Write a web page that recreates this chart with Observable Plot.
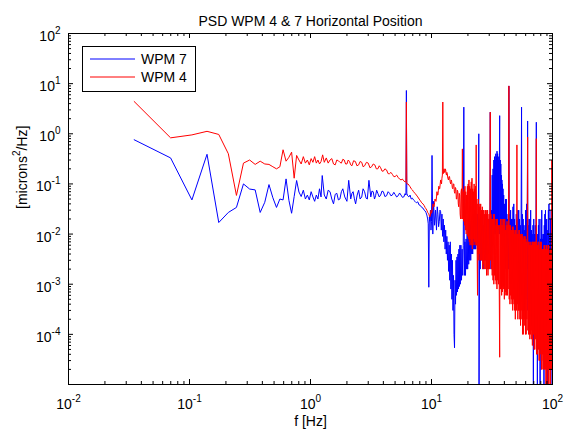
<!DOCTYPE html>
<html><head><meta charset="utf-8">
<script src="https://cdn.jsdelivr.net/npm/d3@7"></script>
<script src="https://cdn.jsdelivr.net/npm/@observablehq/plot@0.6"></script>
<style>
body{margin:0;background:#fff;}
</style>
</head><body><div id="chart"></div>
<script>
const titleText = "PSD WPM 4 & 7 Horizontal Position";
const xLabelText = "f [Hz]";
const yLabelText = "[microns^2/Hz]";
const seriesNames = ["WPM 7", "WPM 4"];
const seriesColors = ["#0000ff", "#ff0000"];
const xTickValues = [1e-2, 1e-1, 1, 10, 100];
const yTickValues = [1e-4, 1e-3, 1e-2, 1e-1, 1, 10, 100];

// WPM 7 (blue)
const wpm7Freq = [
0.0349,0.0698,0.1047,0.1396,0.1745,0.2094,0.2443,0.2792,0.3141,0.349,
0.3839,0.4188,0.4537,0.4886,0.5235,0.5584,0.5933,0.6282,0.6631,0.698,
0.7329,0.7678,0.8027,0.8376,0.8725,0.9074,0.9423,0.9772,1.012,1.047,
1.082,1.117,1.152,1.187,1.222,1.25,1.3,1.35,1.4,1.45,
1.5,1.55,1.6,1.65,1.7,1.75,1.8,1.85,1.92,2.0,
2.07,2.15,2.2,2.25,2.3,2.36,2.43,2.5,2.57,2.65,
2.72,2.8,2.88,2.95,3.04,3.15,3.22,3.3,3.38,3.45,
3.52,3.6,3.7,3.8,3.9,4.0,4.12,4.25,4.38,4.5,
4.62,4.75,4.88,5.0,5.15,5.3,5.45,5.6,5.75,5.9,
6.05,6.15,6.2,6.25,6.35,6.5,6.65,6.8,6.95,7.1,
7.3,7.5,7.7,7.9,8.1,8.3,8.5,8.7,8.85,9.0,
9.15,9.3,9.4,9.5,9.6,9.7,9.8,9.9,10.0,10.1,
10.25,10.4,10.6,10.8,11.0,11.15,11.3,11.45,11.6,11.75,
11.9,12.05,12.2,12.35,12.5,12.65,12.8,12.95,13.1,13.25,
13.4,13.55,13.7,13.85,14.0,14.15,14.3,14.45,14.6,14.75,
14.9,15.05,15.2,15.35,15.5,15.65,15.8,15.95,16.1,16.25,
16.4,16.55,16.7,16.85,17.0,17.15,17.3,17.5,17.7,17.9,
18.1,18.3,18.5,18.7,18.9,19.1,19.3,19.5,19.7,19.9,
20.1,20.3,20.5,20.7,20.9,21.1,21.3,21.5,21.7,21.9,
22.1,22.3,22.5,22.7,22.9,23.1,23.3,23.5,23.7,23.9,
24.1,24.3,24.6,24.7,25.0,25.25,25.5,25.75,26.0,26.25,
26.5,26.75,27.0,27.25,27.5,27.75,28.0,28.25,28.5,28.75,
29.0,29.25,29.5,29.75,30.0,30.3,30.6,31.0,31.25,31.5,
31.75,32.0,32.25,32.5,32.75,33.0,33.2,33.4,33.6,33.8,
34.0,34.2,34.4,34.6,34.8,35.0,35.2,35.4,35.6,35.8,
36.0,36.2,36.4,36.6,36.8,37.0,37.2,37.4,37.6,37.8,
38.0,38.2,38.4,38.6,38.8,39.0,39.25,39.5,39.75,40.0,
40.25,40.5,40.75,41.0,41.25,41.5,41.75,42.0,42.25,42.5,
42.75,43.0,43.3,43.6,44.0,44.35,44.7,45.05,45.4,45.75,
46.1,46.45,46.8,47.15,47.5,47.85,48.2,48.6,49.0,49.4,
49.8,50.2,50.6,51.0,51.4,51.8,52.2,52.6,53.0,53.4,
53.8,54.2,54.6,55.0,55.5,55.9,56.3,56.75,57.2,57.65,
58.1,58.55,59.0,59.5,60.0,60.5,61.0,61.6,62.3,62.6,
63.0,63.5,64.0,64.5,65.0,65.5,66.0,66.5,67.0,67.5,
68.0,68.5,69.0,69.5,70.0,70.5,71.0,71.5,72.0,72.7,
73.5,74.0,74.5,75.0,75.5,76.0,76.5,77.0,77.5,78.0,
78.5,79.0,79.5,80.0,80.5,81.0,81.5,82.0,82.5,83.0,
83.5,84.0,84.5,85.0,85.5,86.0,86.5,87.0,87.5,88.0,
88.5,89.0,89.5,90.0,90.5,91.0,91.5,92.0,92.5,93.0,
93.5,94.0,94.5,95.0,95.5,96.0,96.5,97.0,97.5,98.0,
98.5,99.0,99.5,100
];
const wpm7Psd = [
0.76,0.33,0.048,0.39,0.017,0.027,0.034,0.10,0.079,0.076,
0.027,0.043,0.097,0.053,0.034,0.05,0.048,0.126,0.047,0.026,
0.056,0.117,0.069,0.056,0.075,0.05,0.06,0.048,0.07,0.055,
0.045,0.06,0.05,0.08,0.055,0.147,0.06,0.05,0.075,0.07,
0.05,0.04,0.062,0.065,0.048,0.05,0.07,0.08,0.055,0.045,
0.118,0.05,0.065,0.07,0.052,0.04,0.06,0.075,0.05,0.055,
0.08,0.07,0.052,0.05,0.118,0.055,0.072,0.07,0.05,0.058,
0.075,0.065,0.055,0.06,0.072,0.07,0.056,0.058,0.07,0.065,
0.058,0.06,0.068,0.062,0.055,0.058,0.066,0.06,0.054,0.055,
0.064,0.06,7.3,0.065,0.058,0.055,0.06,0.05,0.052,0.048,
0.045,0.042,0.044,0.038,0.037,0.034,0.033,0.03,0.029,0.027,
0.024,0.02,0.016,0.00087,0.022,0.018,0.03,0.012,0.018,0.37,
0.01,0.045,0.015,0.03,0.012,0.035,0.025,0.014,0.018,0.03,
0.028,0.012,0.025,0.009,0.02,0.007,0.015,0.005,0.012,0.004,
0.009,0.003,0.007,0.0018,0.006,0.0012,0.007,0.0008,0.004,0.0005,
0.003,0.0003,0.0015,0.0001,0.000054,0.0012,0.0004,0.003,0.0006,0.0035,
0.0007,0.004,0.0008,0.005,0.0009,0.006,0.001,0.006,0.0012,0.005,
0.0015,0.006,3.4,0.0015,0.007,0.0015,0.008,0.002,0.01,0.002,
0.012,0.0025,0.012,0.003,0.015,0.003,0.018,0.004,0.02,0.004,
0.025,0.005,0.02,0.005,0.03,0.005,0.025,0.006,0.02,0.005,
0.025,0.004,1.0,0.000003,0.02,0.002,0.025,0.003,0.02,0.003,
0.03,0.002,0.015,0.003,0.02,0.003,0.02,0.004,0.025,0.003,
0.03,0.004,0.02,0.004,0.02,0.003,2.7,0.002,0.03,0.003,
0.15,0.006,0.2,0.01,0.3,0.01,0.35,0.015,0.3,0.01,
0.4,0.012,0.35,0.01,0.45,0.02,0.4,0.012,0.3,0.015,
0.35,0.01,0.3,2.3,0.01,0.3,0.008,0.25,0.012,0.15,
0.006,0.12,0.008,0.1,0.005,0.08,0.006,0.06,0.003,0.04,
0.004,0.03,0.002,0.05,0.003,0.05,0.002,0.025,0.002,0.02,
0.003,0.02,0.002,9.0,0.002,0.025,0.001,0.03,0.001,0.02,
0.0012,0.02,0.0015,0.035,0.0008,0.04,0.0008,0.02,0.001,0.015,
0.0012,0.025,0.0006,0.02,0.0006,0.03,0.0005,0.03,0.0004,0.02,
0.0008,0.015,0.001,0.02,3.4,0.0006,0.025,0.0006,0.02,0.0003,
0.015,0.0003,0.012,0.0004,0.03,0.0005,0.04,0.002,1.8,0.0003,
0.015,0.0002,0.02,0.0004,0.02,0.0004,0.03,0.0002,0.012,0.00015,
0.01,0.00008,0.015,0.000003,0.02,0.0004,0.01,0.0001,0.015,0.001,
1.7,0.0002,0.006,0.000003,0.01,0.0002,0.015,0.0003,0.02,0.0001,
0.005,0.000003,0.008,0.00015,0.02,0.0002,0.03,0.0003,0.008,0.0001,
0.01,0.00008,0.01,0.000003,0.015,0.0002,0.025,0.0004,0.03,0.0001,
0.015,0.00005,0.02,0.0003,0.006,0.000003,0.012,0.0004,0.03,0.0002,
0.04,0.0003,0.006,0.0001,0.01,0.0002,0.02,0.000003,0.03,0.0005,
0.015,0.0003,0.02,0.0008
];

// WPM 4 (red)
const wpm4Freq = [
0.0349,0.0698,0.1047,0.1396,0.1745,0.2094,0.2443,0.2792,0.3141,0.349,
0.3839,0.4188,0.4537,0.4886,0.5235,0.5584,0.5933,0.6282,0.6631,0.698,
0.7329,0.7678,0.8027,0.8376,0.8725,0.9074,0.9423,0.9772,1.012,1.047,
1.082,1.117,1.152,1.187,1.222,1.26,1.3,1.35,1.4,1.45,
1.5,1.55,1.6,1.65,1.7,1.75,1.8,1.85,1.9,1.95,
2.0,2.05,2.1,2.15,2.2,2.27,2.35,2.42,2.5,2.57,
2.65,2.72,2.8,2.9,3.0,3.1,3.2,3.3,3.4,3.5,
3.6,3.7,3.8,3.9,4.0,4.12,4.25,4.38,4.5,4.62,
4.75,4.88,5.0,5.15,5.3,5.45,5.6,5.75,5.9,6.05,
6.15,6.2,6.25,6.4,6.5,6.65,6.8,6.95,7.1,7.3,
7.5,7.7,7.9,8.1,8.3,8.5,8.7,8.85,9.0,9.15,
9.3,9.4,9.5,9.6,9.7,9.8,9.9,10.0,10.1,10.2,
10.3,10.4,10.5,10.6,10.7,10.8,10.9,11.0,11.1,11.2,
11.3,11.4,11.5,11.6,11.7,11.8,11.9,12.0,12.1,12.2,
12.3,12.4,12.5,12.6,12.7,12.8,12.9,13.0,13.1,13.2,
13.3,13.4,13.5,13.65,13.8,13.95,14.1,14.25,14.4,14.55,
14.7,14.85,15.0,15.15,15.3,15.45,15.6,15.75,15.9,16.05,
16.2,16.35,16.5,16.65,16.8,16.95,17.1,17.25,17.4,17.55,
17.7,17.85,18.0,18.15,18.3,18.45,18.6,18.75,18.9,19.05,
19.2,19.35,19.5,19.65,19.8,19.95,20.1,20.25,20.4,20.55,
20.7,20.85,21.0,21.15,21.3,21.45,21.6,21.75,21.9,22.05,
22.2,22.35,22.5,22.65,22.8,22.95,23.1,23.25,23.4,23.55,
23.7,23.85,24.0,24.15,24.3,24.45,24.6,24.75,24.9,25.1,
25.3,25.5,25.7,25.9,26.1,26.3,26.5,26.7,26.9,27.1,
27.3,27.5,27.7,27.9,28.1,28.3,28.5,28.7,28.9,29.1,
29.3,29.5,29.7,29.9,30.1,30.35,30.6,30.8,31.0,31.25,
31.5,31.75,32.0,32.25,32.5,32.75,33.0,33.25,33.5,33.75,
34.0,34.25,34.5,34.75,35.0,35.25,35.5,35.75,36.0,36.3,
36.6,36.8,37.0,37.25,37.5,37.75,38.0,38.25,38.5,38.75,
39.0,39.25,39.5,39.75,40.0,40.3,40.6,40.9,41.2,41.5,
41.8,42.1,42.4,42.7,43.0,43.3,43.6,43.9,44.2,44.5,
44.8,45.1,45.4,45.7,46.0,46.3,46.6,46.9,47.2,47.5,
47.8,48.1,48.4,48.7,49.0,49.3,49.6,49.9,50.2,50.5,
50.8,51.1,51.4,51.7,52.0,52.35,52.7,53.05,53.4,53.75,
54.1,54.45,54.8,55.15,55.5,55.85,56.2,56.6,57.0,57.4,
57.8,58.2,58.6,59.0,59.4,59.8,60.2,60.6,61.0,61.4,
61.8,62.3,62.6,63.0,63.4,63.8,64.2,64.6,65.0,65.4,
65.8,66.2,66.6,67.0,67.4,67.8,68.2,68.6,69.0,69.4,
69.8,70.2,70.6,71.0,71.4,71.8,72.2,72.6,73.0,73.5,
73.9,74.4,74.8,75.3,75.7,76.2,76.6,77.1,77.5,78.0,
78.4,78.9,79.3,79.8,80.2,80.7,81.1,81.6,82.0,82.5,
82.9,83.4,83.8,84.3,84.7,85.2,85.6,86.1,86.5,87.0,
87.4,87.9,88.3,88.8,89.2,89.7,90.1,90.6,91.0,91.5,
91.9,92.4,92.8,93.3,93.7,94.2,94.6,95.1,95.5,96.0,
96.4,96.9,97.3,97.8,98.2,98.7,99.1,99.5,100
];
const wpm4Psd = [
4.4,0.83,0.95,1.12,0.97,0.40,0.059,0.26,0.30,0.245,
0.284,0.25,0.245,0.22,0.20,0.22,0.48,0.284,0.34,0.43,
0.13,0.37,0.3,0.25,0.35,0.26,0.3,0.24,0.32,0.27,
0.35,0.26,0.3,0.25,0.28,0.38,0.27,0.33,0.26,0.3,
0.32,0.25,0.24,0.3,0.29,0.27,0.26,0.31,0.3,0.25,
0.25,0.3,0.28,0.24,0.23,0.29,0.28,0.23,0.24,0.28,
0.27,0.22,0.23,0.27,0.26,0.21,0.22,0.25,0.24,0.2,
0.2,0.23,0.21,0.18,0.18,0.2,0.19,0.16,0.16,0.17,
0.155,0.14,0.14,0.15,0.135,0.125,0.12,0.125,0.115,0.11,
0.11,4.3,0.1,0.1,0.095,0.088,0.08,0.076,0.07,0.065,
0.06,0.055,0.05,0.046,0.042,0.04,0.037,0.034,0.032,0.03,
0.027,0.026,0.025,0.023,0.022,0.024,0.03,0.026,0.028,0.033,
0.04,0.036,0.035,0.042,0.05,0.046,0.045,0.055,0.07,0.06,
0.06,0.075,0.09,0.08,0.08,0.1,0.12,0.11,0.1,0.13,
0.15,4.3,0.16,0.18,0.2,0.17,0.17,0.2,0.19,0.16,
0.15,0.17,0.16,0.13,0.12,0.14,0.14,0.11,0.1,0.12,
0.11,0.085,0.08,0.1,0.1,0.07,0.065,0.085,0.08,0.05,
0.05,0.075,0.07,0.04,0.035,0.065,0.06,0.025,0.02,0.07,
0.08,0.02,0.5,0.02,0.07,0.018,0.08,0.015,0.09,0.012,
0.07,0.01,0.06,0.012,0.09,0.009,0.1,0.008,0.12,0.007,
0.09,0.006,0.08,0.008,0.11,0.006,0.13,0.005,0.08,0.006,
0.07,0.008,0.1,0.007,0.08,0.006,0.09,0.007,0.6,0.006,
0.05,0.004,0.0006,0.04,0.004,0.05,0.003,0.04,0.004,0.035,
0.003,0.04,0.003,0.03,0.003,0.035,0.002,0.03,0.0025,0.03,
0.002,0.025,0.003,0.03,0.002,0.03,0.0015,0.025,0.002,0.03,
0.0015,0.02,0.002,0.025,0.002,0.02,2.7,0.003,0.025,0.002,
0.02,0.0015,0.02,0.0012,0.025,0.001,0.025,0.0015,0.02,0.0012,
0.015,0.001,0.02,0.0008,0.02,0.0012,0.015,0.001,0.015,0.0008,
0.000035,0.015,0.0008,0.02,0.0008,0.015,0.0006,0.02,0.0007,0.015,
0.0009,0.02,0.0008,0.015,0.0005,0.02,0.0006,0.012,0.0007,0.015,
0.0006,0.018,0.0006,0.015,0.0008,0.012,9.0,0.0005,0.015,0.0004,
0.015,0.0006,0.012,0.0005,0.012,0.0004,0.014,0.0003,0.014,0.0005,
0.012,0.0004,0.01,0.0003,0.012,0.0002,0.012,0.0004,0.01,0.0003,
0.6,0.0004,0.01,0.0002,0.01,0.0003,0.012,0.0003,0.012,0.0002,
0.01,0.00015,0.009,0.0003,0.01,0.0002,0.01,0.0001,0.009,0.0001,
0.008,0.0002,0.009,0.00015,0.009,0.0001,0.008,0.0001,0.007,0.0002,
0.007,0.86,0.00012,0.007,0.0001,0.007,0.0001,0.006,0.00008,0.007,
0.0001,0.006,0.00012,0.006,0.00008,0.007,0.00006,0.007,0.0001,0.007,
0.0001,0.006,0.00005,0.007,0.00005,0.007,0.00008,0.007,0.0001,0.8,
0.00004,0.006,0.00004,0.006,0.00006,0.007,0.00005,0.007,0.00003,0.005,
0.00003,0.006,0.00005,0.007,0.00004,0.007,0.00002,0.005,0.00002,0.005,
0.00004,0.005,0.00003,0.005,0.00002,0.006,0.00002,0.006,0.00003,0.005,
0.00002,0.005,0.00001,0.006,0.00001,0.006,0.00002,0.005,0.00002,0.005,
0.00001,0.006,0.00001,0.006,0.00002,0.004,0.00002,0.004,0.00001,0.005,
0.00001,0.005,0.00002,0.005,0.00002,0.3,0.00003,0.004,0.00003
];

const wpm7 = wpm7Freq.map((f, i) => ({f, v: wpm7Psd[i]}));
const wpm4 = wpm4Freq.map((f, i) => ({f, v: wpm4Psd[i]}));

const W = 566, H = 434, mL = 68, mR = 14, mT = 33, mB = 50;
const fw = W - mL - mR, fh = H - mT - mB;
const xMinor = [], yMinor = [];
for (let d = -2; d <= 1; d++) for (let m = 2; m <= 9; m++) xMinor.push(m * Math.pow(10, d));
for (let d = -5; d <= 1; d++) for (let m = 2; m <= 9; m++) yMinor.push(m * Math.pow(10, d));
const expLabel = d => "10^" + Math.round(Math.log10(d));

const plot = Plot.plot({
  width: W, height: H,
  marginLeft: mL, marginRight: mR, marginTop: mT, marginBottom: mB,
  style: {fontFamily: "Arial, 'Liberation Sans', sans-serif", fontSize: "14px", background: "white", color: "black"},
  x: {type: "log", domain: [1e-2, 1e2], axis: null},
  y: {type: "log", domain: [1e-5, 1e2], axis: null},
  marks: [
    Plot.line(wpm7, {x: "f", y: "v", stroke: seriesColors[0], strokeWidth: 1, clip: true}),
    Plot.line(wpm4, {x: "f", y: "v", stroke: seriesColors[1], strokeWidth: 1, clip: true}),
    Plot.frame({stroke: "black"}),
    Plot.tickX(xTickValues, {x: d => d, insetTop: fh - 5, stroke: "black"}),
    Plot.tickX(xTickValues, {x: d => d, insetBottom: fh - 5, stroke: "black"}),
    Plot.tickX(xMinor, {x: d => d, insetTop: fh - 3, stroke: "black"}),
    Plot.tickX(xMinor, {x: d => d, insetBottom: fh - 3, stroke: "black"}),
    Plot.tickY(yTickValues, {y: d => d, insetRight: fw - 5, stroke: "black"}),
    Plot.tickY(yTickValues, {y: d => d, insetLeft: fw - 5, stroke: "black"}),
    Plot.tickY(yMinor, {y: d => d, insetRight: fw - 3, stroke: "black"}),
    Plot.tickY(yMinor, {y: d => d, insetLeft: fw - 3, stroke: "black"}),
    Plot.text(xTickValues, {x: d => d, frameAnchor: "bottom", dy: 24, text: expLabel, fontSize: 14}),
    Plot.text(yTickValues, {y: d => d, frameAnchor: "left", dx: -8, dy: 3, textAnchor: "end", text: expLabel, fontSize: 14}),
    Plot.text([titleText], {frameAnchor: "top", dy: -17, fontSize: 14}),
    Plot.text([xLabelText], {frameAnchor: "bottom", dy: 41, fontSize: 14}),
    Plot.text([yLabelText], {frameAnchor: "left", dx: -46, rotate: -90, fontSize: 14})
  ]
});

const svg = d3.select(plot);
svg.selectAll("text").each(function () {
  const t = this.textContent;
  const i = t.indexOf("^");
  if (i < 0) return;
  const base = t.slice(0, i);
  const m = t.slice(i + 1).match(/^(-?\d+)(.*)$/);
  const el = d3.select(this);
  el.text(base);
  el.append("tspan").attr("dy", -7).attr("font-size", 10).text(m[1]);
  if (m[2]) el.append("tspan").attr("dy", 7).text(m[2]);
});

// legend inside the axes
const lg = svg.append("g").attr("aria-label", "legend");
lg.append("rect").attr("x", 82.5).attr("y", 46.5).attr("width", 113).attr("height", 45)
  .attr("fill", "white").attr("stroke", "black");
seriesNames.forEach((name, i) => {
  const y = 59 + i * 18;
  lg.append("line").attr("x1", 90).attr("x2", 135).attr("y1", y).attr("y2", y)
    .attr("stroke", seriesColors[i]).attr("stroke-width", 1);
  lg.append("text").attr("x", 141).attr("y", y).attr("dy", "0.35em")
    .attr("text-anchor", "start").attr("font-size", 14).attr("fill", "black").text(name);
});

document.getElementById("chart").appendChild(plot);
</script>
</body></html>
